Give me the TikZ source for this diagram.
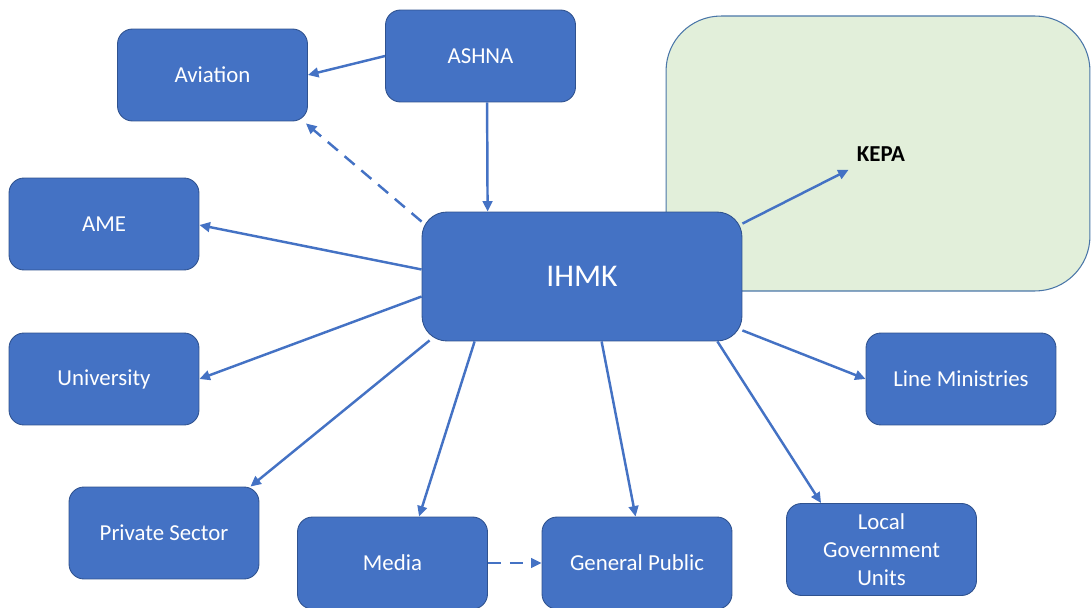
\documentclass[tikz,border=0pt]{standalone}
\usepackage{fontspec}
\setmainfont{Carlito}
\usetikzlibrary{arrows.meta,calc}
\definecolor{boxblue}{HTML}{4472C4}
\definecolor{boxedge}{HTML}{2F528F}
\definecolor{kepafill}{HTML}{E2EFDA}
\definecolor{kepaedge}{HTML}{4A76A8}
\tikzset{
  unit/.style={draw=boxedge, line width=0.5pt, fill=boxblue, rounded corners=0.3cm,
    minimum width=3.8cm, minimum height=1.84cm, text=white, align=center,
    inner sep=2pt, font=\fontsize{13}{15.9}\selectfont},
  link/.style={draw=boxblue, line width=1.4pt, -{Triangle[length=6pt,width=5.5pt]}},
  dlink/.style={link, dash pattern=on 7.5pt off 5pt},
}
\begin{document}
\begin{tikzpicture}[x=0.02cm,y=-0.02cm]
\useasboundingbox (0,0) rectangle (1092,608);
% KEPA area
\node[draw=kepaedge, line width=0.6pt, fill=kepafill, rounded corners=1.1cm,
  minimum width=8.48cm, minimum height=5.5cm, inner sep=0pt] (kepabox) at (878,153.5) {};
\node[inner sep=0pt, font=\fontsize{13}{15}\selectfont\bfseries] (kepa) at (881,154) {KEPA};
% nodes
\node[unit] (aviation) at (212.5,75) {Aviation};
\node[unit] (ashna) at (480.5,56) {ASHNA};
\node[unit] (ame) at (104,224) {AME};
\node[unit, minimum width=6.4cm, minimum height=2.58cm, rounded corners=0.5cm,
  font=\fontsize{18}{22}\selectfont] (ihmk) at (582,276.5) {IHMK};
\node[unit] (university) at (104,379) {University};
\node[unit] (lm) at (961,379) {Line Ministries};
\node[unit] (private) at (164,533) {Private Sector};
\node[unit] (media) at (392.5,563) {Media};
\node[unit] (gp) at (637,563) {General Public};
\node[unit] (lgu) at (881.5,549.5) {Local\\Government\\Units};
% connectors
\draw[link] (ashna.west) -- (aviation.east);
\draw[link] ($(ashna.south west)+(102,0)$) -- ($(ihmk.north west)+(66,0)$);
\draw[dlink] ($(ihmk.north west)+(0,10)$) -- ($(aviation.south east)+(-2,2)$);
\draw[link] ($(ihmk.west)+(0,-7)$) -- ($(ame.east)+(0,1)$);
\draw[link] ($(ihmk.west)+(0,20)$) -- (university.east);
\draw[link] ($(ihmk.south west)+(8,-1)$) -- ($(private.north east)+(-9,0)$);
\draw[link] ($(ihmk.south west)+(53,0)$) -- ($(media.north west)+(122,0)$);
\draw[link] ($(ihmk.south west)+(180,0)$) -- ($(gp.north west)+(94,0)$);
\draw[link] ($(ihmk.south east)+(-25,0)$) -- ($(lgu.north west)+(35,0)$);
\draw[link] ($(ihmk.south east)+(0,-11)$) -- (lm.west);
\draw[link] ($(ihmk.north east)+(0,12)$) -- ($(kepa.south west)+(-8,8)$);
\draw[dlink] (media.east) -- (gp.west);
\end{tikzpicture}
\end{document}
